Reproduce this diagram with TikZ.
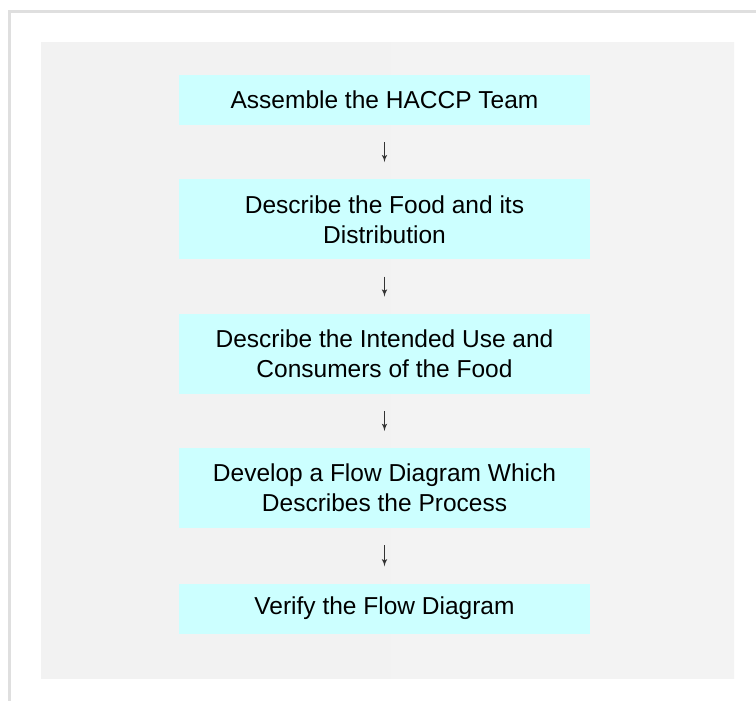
\documentclass[tikz,border=0pt]{standalone}
\usepackage{fontspec}
\setmainfont{Liberation Sans}
\usepackage{xcolor}
\usepackage{tikz}
\usetikzlibrary{shapes,arrows,positioning}
\definecolor{boxcyan}{HTML}{CCFFFF}
\definecolor{framegray}{HTML}{DFDFDF}
\definecolor{arrowgray}{HTML}{333333}
\definecolor{panelleft}{HTML}{F2F2F2}
\definecolor{panelmid}{HTML}{F8F8F8}
\definecolor{panelright}{HTML}{F3F3F3}

\begin{document}
\begin{tikzpicture}[x=1pt, y=-1pt, auto]
	\tikzstyle{block} = [rectangle, fill=boxcyan, text=black, align=center,
	minimum width=411pt, minimum height=50pt, inner sep=0pt,
	font=\fontsize{24.5}{30}\selectfont]
	\tikzstyle{tall} = [minimum height=80pt]
	\tikzstyle{line} = [draw=arrowgray, -latex', line width=1.5pt,
	shorten <=17pt, shorten >=17pt]
	\useasboundingbox (0,0) rectangle (756,701);
	% Frame and panel
	\draw [framegray, line width=3pt] (9.5,701) -- (9.5,11.5) -- (756,11.5);
	\shade [left color=panelleft, middle color=panelmid, right color=panelright]
	(41,43) rectangle (734,678);
	% Place nodes
	\node [block] (team) at (384.5,100) {Assemble the HACCP Team};
	\node [block, tall, below=54pt of team] (food) {Describe the Food and its\\Distribution};
	\node [block, tall, below=54pt of food] (use) {Describe the Intended Use and\\Consumers of the Food};
	\node [block, tall, below=54pt of use] (flow) {Develop a Flow Diagram Which\\Describes the Process};
	\node [block, below=55pt of flow] (verify) {Verify the Flow Diagram};
	% Draw edges
	\path [line] (team) -- (food);
	\path [line] (food) -- (use);
	\path [line] (use) -- (flow);
	\path [line] (flow) -- (verify);
\end{tikzpicture}
\end{document}
